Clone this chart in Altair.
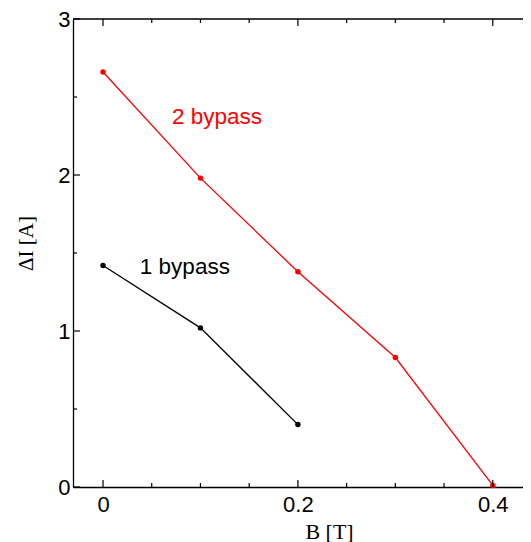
import altair as alt
import pandas as pd

# data
b_two = [0.0, 0.1, 0.2, 0.3, 0.4]
di_two = [2.66, 1.98, 1.38, 0.83, 0.01]
b_one = [0.0, 0.1, 0.2]
di_one = [1.42, 1.02, 0.40]

x_major = [0.0, 0.2, 0.4]
x_minor = [0.05, 0.1, 0.15, 0.25, 0.3, 0.35]
y_major = [0, 1, 2, 3]
y_minor = [0.5, 1.5, 2.5]

labels = ["2 bypass", "1 bypass"]
label_b = [0.117, 0.084]
label_di = [2.37, 1.41]
label_colors = ["#ff0000", "#000000"]

W, H = 450, 468
XDOM = [-0.0308, 0.431]
YDOM = [0, 3]

two = pd.DataFrame({"b": b_two, "di": di_two})
one = pd.DataFrame({"b": b_one, "di": di_one})
lab = pd.DataFrame({"b": label_b, "di": label_di, "t": labels, "c": label_colors})

xs = alt.Scale(domain=XDOM, nice=False, zero=False)
ys = alt.Scale(domain=YDOM, nice=False, zero=False)

xaxis = alt.Axis(values=x_major, format="~g", ticks=False, tickSize=0, grid=False,
                 domainColor="black", domainWidth=1.3, labelFontSize=22,
                 labelFont="Liberation Sans", labelColor="black", labelPadding=7,
                 title="B [T]", titleFont="Liberation Serif", titleFontSize=22,
                 titleFontWeight="normal", titleColor="black", titleX=256, titleY=51,
                 titleBaseline="alphabetic", titleAlign="center")
yaxis = alt.Axis(values=y_major, format="~g", ticks=False, tickSize=0, grid=False,
                 domainColor="black", domainWidth=1.3, labelFontSize=22,
                 labelFont="Liberation Sans", labelColor="black", labelPadding=3,
                 title="ΔI [A]", titleFont="Liberation Serif", titleFontSize=21,
                 titleFontWeight="normal", titleColor="black", titleAngle=270,
                 titleX=-47, titleY=224, titleBaseline="middle", titleAlign="center")

def series(df, color):
    base = alt.Chart(df).encode(
        x=alt.X("b:Q", scale=xs, axis=xaxis),
        y=alt.Y("di:Q", scale=ys, axis=yaxis),
    )
    return base.mark_line(color=color, strokeWidth=1.3) + base.mark_point(
        color=color, filled=True, size=30, opacity=1)

texts = alt.Chart(lab).mark_text(font="Liberation Sans", fontSize=22.5, align="center",
                                 baseline="middle").encode(
    x=alt.X("b:Q", scale=xs), y=alt.Y("di:Q", scale=ys),
    text="t:N", color=alt.Color("c:N", scale=None))

def xticks(vals, length):
    df = pd.DataFrame({"b": vals})
    bot = alt.Chart(df).mark_rule(color="black", strokeWidth=1.2).encode(
        x=alt.X("b:Q", scale=xs), y=alt.value(H), y2=alt.value(H - length))
    top = alt.Chart(df).mark_rule(color="black", strokeWidth=1.2).encode(
        x=alt.X("b:Q", scale=xs), y=alt.value(0), y2=alt.value(length))
    return bot + top

def yticks(vals, length):
    df = pd.DataFrame({"di": vals})
    return alt.Chart(df).mark_rule(color="black", strokeWidth=1.2).encode(
        y=alt.Y("di:Q", scale=ys), x=alt.value(0), x2=alt.value(length))

top_line = alt.Chart(pd.DataFrame({"di": [3]})).mark_rule(color="black", strokeWidth=1.3).encode(
    y=alt.Y("di:Q", scale=ys), x=alt.value(0), x2=alt.value(W))

chart = alt.layer(
    series(two, "#ff0000"),
    series(one, "#000000"),
    texts,
    xticks(x_major, 7), xticks(x_minor, 4),
    yticks(y_major, 7), yticks(y_minor, 4),
    top_line,
).properties(
    width=W, height=H,
    autosize=alt.AutoSizeParams(type="none"),
    padding={"left": 65, "top": 11, "right": 0, "bottom": 55},
    background="white",
).configure_view(stroke=None)

chart.save("out.html", embed_options={"renderer": "svg", "actions": False})
